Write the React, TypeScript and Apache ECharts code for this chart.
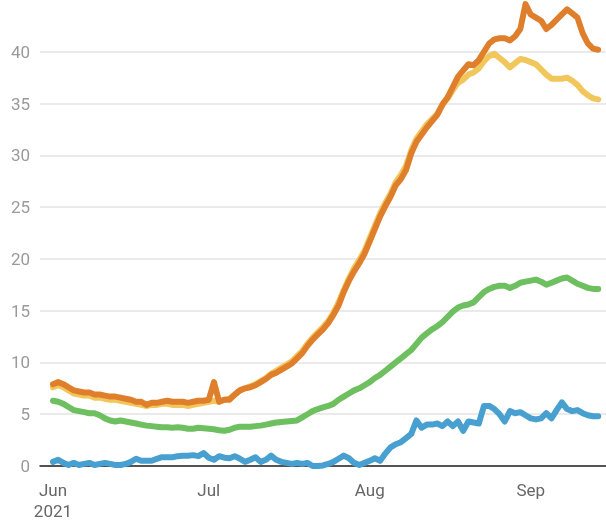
import React, { useEffect, useRef } from "react";
import * as echarts from "echarts";

const startYear = 2021;
const startMonth = 5; // June (0-based)
const startDay = 1;
const monthNames = ["Jan", "Feb", "Mar", "Apr", "May", "Jun", "Jul", "Aug", "Sep", "Oct", "Nov", "Dec"];
const yTicks = [0, 5, 10, 15, 20, 25, 30, 35, 40];

const orangeValues = [
  7.9, 8.1, 7.9, 7.6, 7.3, 7.2, 7.1, 7.1, 6.9, 6.9,
  6.8, 6.7, 6.7, 6.6, 6.5, 6.4, 6.2, 6.2, 5.9, 6.1,
  6.1, 6.2, 6.3, 6.2, 6.2, 6.2, 6.1, 6.2, 6.3, 6.3,
  6.4, 8.1, 6.2, 6.4, 6.4, 6.9, 7.3, 7.5, 7.6, 7.8,
  8.1, 8.4, 8.8, 9.0, 9.3, 9.6, 9.9, 10.4, 10.9, 11.6,
  12.2, 12.7, 13.2, 13.8, 14.6, 15.5, 16.8, 17.9, 18.8, 19.6,
  20.5, 21.7, 22.9, 24.1, 25.1, 26.0, 27.1, 27.7, 28.6, 30.2,
  31.3, 32.0, 32.7, 33.3, 33.9, 34.9, 35.6, 36.6, 37.6, 38.2,
  38.8, 38.7, 39.2, 40.0, 40.8, 41.2, 41.3, 41.3, 41.1, 41.5,
  42.2, 44.6, 43.6, 43.3, 43.0, 42.2, 42.6, 43.1, 43.6, 44.1,
  43.7, 43.3, 41.8, 40.8, 40.3, 40.2,
];

const yellowValues = [
  7.6, 7.8, 7.6, 7.3, 7.0, 6.9, 6.8, 6.8, 6.6, 6.6,
  6.5, 6.4, 6.4, 6.3, 6.2, 6.1, 6.0, 5.9, 5.8, 5.9,
  5.9, 6.0, 6.0, 5.9, 5.9, 5.9, 5.8, 5.9, 6.0, 6.1,
  6.2, 6.3, 6.2, 6.4, 6.5, 6.9, 7.3, 7.5, 7.7, 7.9,
  8.2, 8.5, 8.9, 9.2, 9.5, 9.8, 10.1, 10.6, 11.1, 11.8,
  12.4, 12.9, 13.4, 14.0, 14.8, 15.8, 17.0, 18.1, 19.1, 19.9,
  20.8, 22.0, 23.2, 24.4, 25.4, 26.3, 27.4, 28.1, 29.0, 30.5,
  31.6, 32.3, 33.0, 33.5, 34.0, 34.9, 35.5, 36.3, 37.0, 37.3,
  37.8, 38.0, 38.4, 39.1, 39.6, 39.8, 39.4, 39.0, 38.5, 38.9,
  39.3, 39.2, 39.0, 38.8, 38.3, 37.8, 37.4, 37.4, 37.4, 37.5,
  37.2, 36.8, 36.2, 35.8, 35.5, 35.4,
];

const greenValues = [
  6.3, 6.2, 6.0, 5.7, 5.4, 5.3, 5.2, 5.1, 5.1, 4.9,
  4.6, 4.4, 4.3, 4.4, 4.3, 4.2, 4.1, 4.0, 3.9, 3.85,
  3.8, 3.75, 3.75, 3.7, 3.75, 3.7, 3.6, 3.6, 3.7, 3.65,
  3.6, 3.55, 3.45, 3.4, 3.5, 3.7, 3.8, 3.8, 3.8, 3.85,
  3.9, 4.0, 4.1, 4.2, 4.25, 4.3, 4.35, 4.4, 4.7, 5.0,
  5.3, 5.5, 5.65, 5.8, 6.0, 6.4, 6.7, 7.0, 7.3, 7.5,
  7.8, 8.1, 8.5, 8.8, 9.2, 9.6, 10.0, 10.4, 10.8, 11.2,
  11.8, 12.4, 12.8, 13.2, 13.5, 13.9, 14.4, 14.9, 15.3, 15.5,
  15.6, 15.8, 16.3, 16.8, 17.1, 17.3, 17.4, 17.4, 17.2, 17.4,
  17.7, 17.8, 17.9, 18.0, 17.8, 17.5, 17.7, 17.9, 18.1, 18.2,
  17.9, 17.6, 17.4, 17.2, 17.1, 17.1,
];

const blueValues = [
  0.4, 0.6, 0.3, 0.1, 0.3, 0.1, 0.2, 0.3, 0.1, 0.2,
  0.3, 0.2, 0.1, 0.1, 0.2, 0.4, 0.7, 0.5, 0.5, 0.5,
  0.7, 0.85, 0.85, 0.85, 0.95, 1.0, 1.0, 1.05, 0.95, 1.25,
  0.8, 0.6, 0.95, 0.8, 0.75, 0.95, 0.7, 0.4, 0.6, 0.85,
  0.4, 0.6, 1.0, 0.6, 0.4, 0.3, 0.2, 0.3, 0.2, 0.3,
  0.0, 0.0, 0.05, 0.2, 0.4, 0.7, 1.0, 0.75, 0.3, 0.1,
  0.3, 0.5, 0.75, 0.5, 1.2, 1.8, 2.1, 2.3, 2.7, 3.1,
  4.4, 3.7, 4.0, 4.0, 4.1, 3.85, 4.3, 3.85, 4.3, 3.4,
  4.3, 4.2, 4.1, 5.8, 5.8, 5.5, 5.0, 4.3, 5.3, 5.1,
  5.2, 4.9, 4.6, 4.5, 4.6, 5.1, 4.6, 5.4, 6.15, 5.5,
  5.3, 5.4, 5.1, 4.9, 4.8, 4.8,
];

function toPairs(values: number[]) {
  return values.map((v, i) => [new Date(startYear, startMonth, startDay + i).getTime(), v]);
}

export default function App() {
  const ref = useRef<HTMLDivElement>(null);
  useEffect(() => {
    if (!ref.current) return;
    const chart = echarts.init(ref.current, null, { renderer: "svg" });
    const lineSeries = (name: string, values: number[], color: string) => ({
      name,
      type: "line",
      data: toPairs(values),
      showSymbol: false,
      symbol: "none",
      lineStyle: { color, width: 6, join: "round", cap: "round" },
      itemStyle: { color },
    });
    const gridColors = yTicks.map(() => "#e3e3e3").concat(["rgba(0,0,0,0)"]);
    chart.setOption({
      animation: false,
      grid: { left: 40, right: 0, top: 0, bottom: 54, containLabel: false },
      xAxis: {
        type: "time",
        min: new Date(startYear, 4, 29, 12).getTime(),
        max: new Date(startYear, 8, 15, 12).getTime(),
        minInterval: 28 * 86400000,
        maxInterval: 31 * 86400000,
        axisLine: { show: true, lineStyle: { color: "#222", width: 1.5 } },
        axisTick: { show: false },
        splitLine: { show: false },
        axisLabel: {
          color: "#666",
          fontSize: 17,
          fontFamily: "Roboto",
          lineHeight: 21,
          margin: 13,
          showMinLabel: false,
          showMaxLabel: false,
          hideOverlap: false,
          formatter: (value: number) => {
            const d = new Date(value);
            const m = monthNames[d.getMonth()];
            return d.getMonth() === startMonth ? m + "\n" + startYear : m;
          },
        },
      },
      yAxis: {
        type: "value",
        min: yTicks[0],
        max: 45,
        interval: 5,
        axisLine: { show: false },
        axisTick: { show: false },
        splitLine: { show: true, lineStyle: { color: gridColors, width: 1.5 } },
        axisLabel: {
          color: "#9a9a9a",
          fontSize: 17,
          fontFamily: "Roboto",
          margin: 10,
          showMaxLabel: false,
          formatter: (v: number) => (yTicks.includes(v) ? String(v) : ""),
        },
      },
      series: [
        lineSeries("Yellow", yellowValues, "#f1c75b"),
        lineSeries("Orange", orangeValues, "#df7f2c"),
        lineSeries("Green", greenValues, "#6dbf5f"),
        lineSeries("Blue", blueValues, "#47a0cf"),
      ],
    });
    return () => chart.dispose();
  }, []);
  return (
    <div
      ref={ref}
      style={{ position: "fixed", left: 0, top: 0, width: 606, height: 521 }}
    />
  );
}
